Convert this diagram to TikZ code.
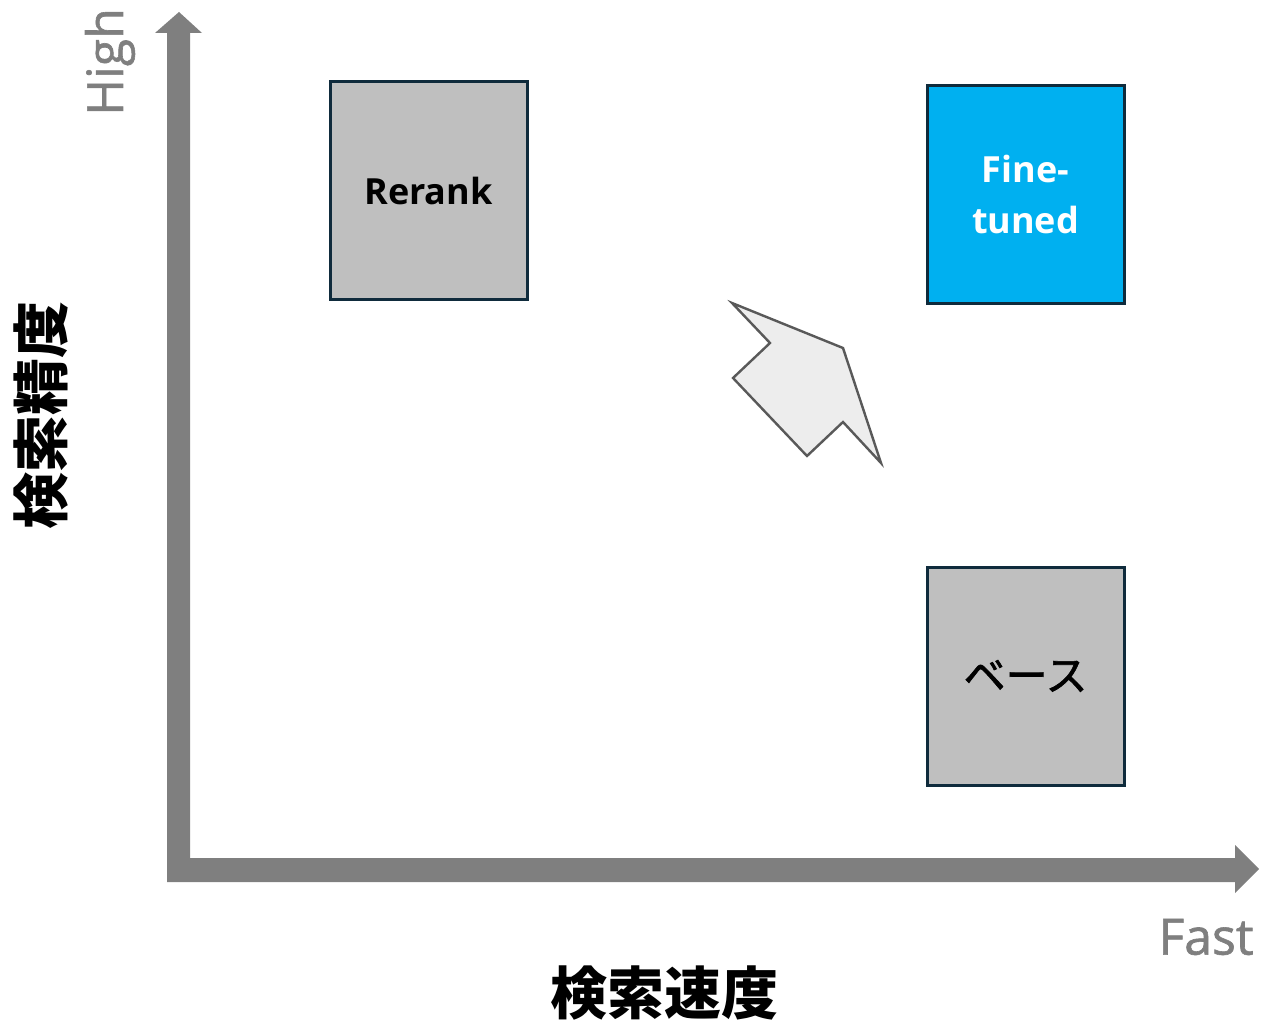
\documentclass[tikz,border=0pt]{standalone}
\usepackage{fontspec}
\setmainfont{Open Sans}
\newfontfamily\cjk{Noto Sans CJK JP}
\newfontfamily\cjkmid[FakeBold=1.6]{Noto Sans CJK JP}
\newfontfamily\axisfont[FakeBold=1.2]{Open Sans}
\definecolor{axisgray}{HTML}{7F7F7F}
\definecolor{boxgray}{HTML}{BFBFBF}
\definecolor{boxblue}{HTML}{00B0F0}
\definecolor{boxedge}{HTML}{0F2B3C}
\definecolor{arrowfill}{HTML}{EDEDED}
\definecolor{arrowedge}{HTML}{595959}
\tikzset{
  quadbox/.style={draw=boxedge, line width=3pt, minimum width=197pt, minimum height=218pt, inner sep=0pt, align=center},
  axislbl/.style={text=axisgray, font=\axisfont\fontsize{50}{54}\selectfont, inner sep=0pt},
  jplbl/.style={font=\cjk\bfseries\fontsize{57}{60}\selectfont, inner sep=0pt},
}
\begin{document}
\begin{tikzpicture}[x=1pt,y=-1pt]
\useasboundingbox (0,0) rectangle (1262,1024);
% axes
\fill[axisgray] (167,882) -- (167,33) -- (155,33) -- (179,12) -- (202,33) -- (190,33) -- (190,858)
  -- (1235,858) -- (1235,845) -- (1259,869) -- (1235,893) -- (1235,882) -- cycle;
% boxes
\node[quadbox, fill=boxgray] (rerank) at (428.5,191) {};
\node[font=\bfseries\fontsize{36}{40}\selectfont, text=black] (reranklbl) at (rerank.center) {Rerank};
\node[quadbox, fill=boxblue] (fine) at (1025.5,195) {};
\node[font=\bfseries\fontsize{36}{51}\selectfont, text=white, align=center] (finelbl) at (fine.center) {Fine-\\tuned};
\node[quadbox, fill=boxgray] (base) at (1025.5,676) {};
\node[font=\cjkmid\fontsize{42}{46}\selectfont, text=black] (baselbl) at (base.center) {ベース};
% block arrow
\draw[fill=arrowfill, draw=arrowedge, line width=2.4pt, line join=miter]
  (732,303) -- (843,348) -- (881,463) -- (843,422) -- (807,456) -- (733,378) -- (770,343) -- cycle;
% axis labels
\node[axislbl, rotate=90, anchor=center] (high) at (110,62) {High};
\node[axislbl, anchor=center] (fast) at (1206,937) {Fast};
\node[jplbl, anchor=center] (xlbl) at (664,993) {検索速度};
\node[jplbl, rotate=90, anchor=center] (ylbl) at (41,415) {検索精度};
\end{tikzpicture}
\end{document}
